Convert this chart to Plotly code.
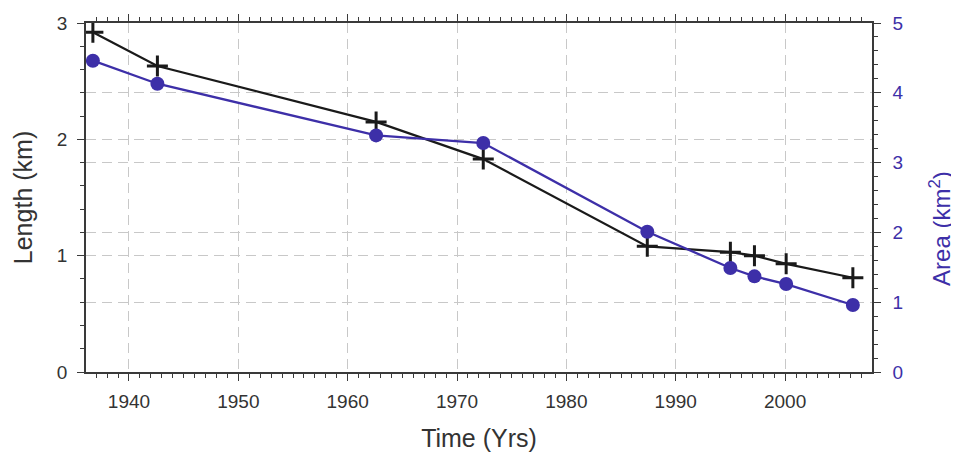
import plotly.graph_objects as go

years = [1936.7, 1942.6, 1962.6, 1972.4, 1987.4, 1995.0, 1997.2, 2000.1, 2006.2]
length_km = [2.92, 2.63, 2.15, 1.83, 1.08, 1.03, 1.00, 0.93, 0.81]
area_km2 = [4.46, 4.13, 3.39, 3.28, 2.01, 1.49, 1.37, 1.26, 0.96]

x_ticks = [1940, 1950, 1960, 1970, 1980, 1990, 2000]
y_ticks = [0, 1, 2, 3]
y2_ticks = [0, 1, 2, 3, 4, 5]

BLUE = "#3d2fa8"
BLACK = "#1a1a1a"
AXIS = "#3a3a3a"
GRID = "#c8c8c8"
TXT = "#333333"
FONT = "Liberation Sans, Arial, sans-serif"

fig = go.Figure()
fig.add_trace(go.Scatter(
    x=years, y=area_km2, mode="lines+markers", yaxis="y2",
    line=dict(color=BLUE, width=2.3),
    marker=dict(symbol="circle", size=14, color=BLUE),
    showlegend=False))
fig.add_trace(go.Scatter(
    x=years, y=length_km, mode="lines+markers",
    line=dict(color=BLACK, width=2.2),
    marker=dict(symbol="cross-thin", size=15, line=dict(color=BLACK, width=3)),
    showlegend=False))

common = dict(
    showline=True, linecolor=AXIS, linewidth=1.5,
    ticks="outside", ticklen=7, tickwidth=1.2, tickcolor=AXIS,
    showgrid=True, gridcolor=GRID, griddash="10px,6px", gridwidth=1,
    zeroline=False, automargin=False,
)

fig.update_layout(
    width=959, height=453,
    margin=dict(l=78, r=95, t=15, b=89),
    paper_bgcolor="white", plot_bgcolor="white",
    font=dict(family=FONT, size=19, color=TXT),
    xaxis=dict(
        range=[1936.07, 2007.95], tickvals=x_ticks, mirror="ticks",
        minor=dict(dtick=1, ticks="outside", ticklen=4, tickwidth=1, tickcolor=AXIS, showgrid=False),
        tickfont=dict(size=19, color=TXT), ticklabelstandoff=4,
        title=dict(text="Time (Yrs)", font=dict(size=25, color=TXT), standoff=19),
        **common,
    ),
    yaxis=dict(
        range=[0, 3], tickvals=y_ticks,
        minor=dict(dtick=0.2, ticks="outside", ticklen=4, tickwidth=1, tickcolor=AXIS, showgrid=False),
        tickfont=dict(size=19, color=TXT), ticklabelstandoff=6,
        title=dict(text="Length (km)", font=dict(size=25, color=TXT), standoff=17),
        **common,
    ),
    yaxis2=dict(
        range=[0, 5], tickvals=y2_ticks, overlaying="y", side="right",
        minor=dict(dtick=0.2, ticks="outside", ticklen=4, tickwidth=1, tickcolor=AXIS, showgrid=False),
        tickfont=dict(color=BLUE, size=19), ticklabelstandoff=8,
        **common,
    ),
    annotations=[dict(
        text="Area (km<sup>2</sup>)", textangle=-90,
        xref="paper", yref="paper", x=1, y=0.41,
        xanchor="center", yanchor="middle", xshift=68,
        showarrow=False, font=dict(size=24, color=BLUE, family=FONT),
    )],
)

fig.write_html("out.html")
